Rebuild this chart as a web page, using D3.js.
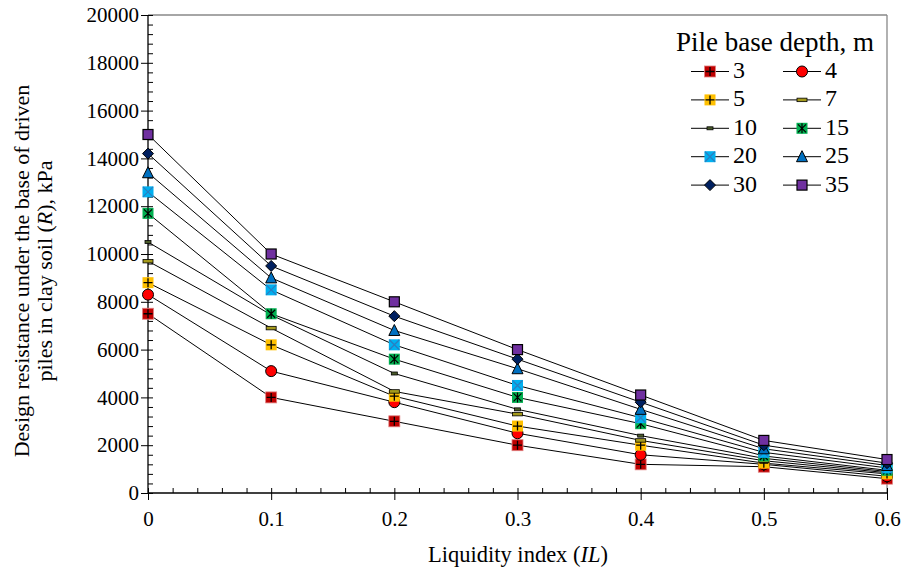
<!DOCTYPE html>
<html><head><meta charset="utf-8">
<script src="https://cdn.jsdelivr.net/npm/d3@7"></script>
<style>body{margin:0;background:#fff}svg{display:block}svg text{font-family:"Liberation Serif","Times New Roman",serif !important;fill:#000}</style>
</head><body>
<svg id="c" width="906" height="577" style="font-family:'Liberation Serif','Times New Roman',serif"></svg>
<script>
const il = [0, 0.1, 0.2, 0.3, 0.4, 0.5, 0.6];
const depths = ["3","4","5","7","10","15","20","25","30","35"];
const d3v = [7500, 4000, 3000, 2000, 1200, 1100, 600];
const d4v = [8300, 5100, 3800, 2500, 1600, 1200, 700];
const d5v = [8800, 6200, 4050, 2800, 2000, 1250, 800];
const d7v = [9700, 6900, 4250, 3300, 2200, 1350, 850];
const d10v = [10500, 7450, 5000, 3500, 2400, 1450, 900];
const d15v = [11700, 7500, 5600, 4000, 2900, 1550, 950];
const d20v = [12600, 8500, 6200, 4500, 3150, 1700, 1050];
const d25v = [13400, 9000, 6800, 5200, 3500, 1850, 1150];
const d30v = [14200, 9500, 7400, 5600, 3800, 2000, 1250];
const d35v = [15000, 10000, 8000, 6000, 4100, 2200, 1400];
const yTicks = [0,2000,4000,6000,8000,10000,12000,14000,16000,18000,20000];
const xTicks = [0,0.1,0.2,0.3,0.4,0.5,0.6];
const seriesValues = [d3v,d4v,d5v,d7v,d10v,d15v,d20v,d25v,d30v,d35v];

const FONT = "'Liberation Serif','Times New Roman',serif";

const styles = {
  "3":{t:"sqplus",fill:"#C00000",stroke:"#E08080"},
  "4":{t:"circle",fill:"#FF0000",stroke:"#000"},
  "5":{t:"sqplus",fill:"#FFC000",stroke:"none"},
  "7":{t:"dash",fill:"#A49A1C",stroke:"#000",w:10,h:3.5},
  "10":{t:"dash",fill:"#4A5A2A",stroke:"#000",w:6,h:3},
  "15":{t:"sqstar",fill:"#00B050",stroke:"none"},
  "20":{t:"sqx",fill:"#00B0F0",stroke:"none"},
  "25":{t:"tri",fill:"#0070C0",stroke:"#000"},
  "30":{t:"diamond",fill:"#002060",stroke:"#000"},
  "35":{t:"square",fill:"#7030A0",stroke:"#000"}
};

function marker(g, s, cx, cy){
  const m = g.append("g").attr("transform",`translate(${cx},${cy})`);
  const r = 5.5;
  if (s.t==="sqplus"){
    m.append("rect").attr("x",-r).attr("y",-r).attr("width",2*r).attr("height",2*r).attr("fill",s.fill).attr("stroke",s.stroke).attr("stroke-width",0.8);
    m.append("path").attr("d",`M${-r+1},0H${r-1}M0,${-r+1}V${r-1}`).attr("stroke","#000").attr("stroke-width",1.3);
  } else if (s.t==="circle"){
    m.append("circle").attr("r",r).attr("fill",s.fill).attr("stroke",s.stroke).attr("stroke-width",1);
  } else if (s.t==="dash"){
    m.append("rect").attr("x",-s.w/2).attr("y",-s.h/2).attr("width",s.w).attr("height",s.h).attr("fill",s.fill).attr("stroke",s.stroke).attr("stroke-width",0.8);
  } else if (s.t==="sqstar"){
    m.append("rect").attr("x",-r).attr("y",-r).attr("width",2*r).attr("height",2*r).attr("fill",s.fill);
    m.append("path").attr("d",`M${-r+1.5},${-r+1.5}L${r-1.5},${r-1.5}M${-r+1.5},${r-1.5}L${r-1.5},${-r+1.5}M0,${-r+0.5}V${r-0.5}`).attr("stroke","#000").attr("stroke-width",1.2);
  } else if (s.t==="sqx"){
    m.append("rect").attr("x",-r).attr("y",-r).attr("width",2*r).attr("height",2*r).attr("fill",s.fill);
    m.append("path").attr("d",`M${-r+0.5},${-r+0.5}L${r-0.5},${r-0.5}M${-r+0.5},${r-0.5}L${r-0.5},${-r+0.5}`).attr("stroke","#2A7FC0").attr("stroke-width",1.3);
  } else if (s.t==="tri"){
    m.append("path").attr("d",`M0,${-r-0.5}L${r},${r-0.5}L${-r},${r-0.5}Z`).attr("fill",s.fill).attr("stroke",s.stroke).attr("stroke-width",1);
  } else if (s.t==="diamond"){
    m.append("path").attr("d",`M0,${-r}L${r},0L0,${r}L${-r},0Z`).attr("fill",s.fill).attr("stroke",s.stroke).attr("stroke-width",1);
  } else if (s.t==="square"){
    m.append("rect").attr("x",-r+0.5).attr("y",-r+0.5).attr("width",2*r-1).attr("height",2*r-1).attr("fill",s.fill).attr("stroke",s.stroke).attr("stroke-width",1.2);
  }
}

const svg = d3.select("#c");
const L=148, R=887, T=15, B=493;
const x = d3.scaleLinear().domain([0,0.6]).range([L,R]);
const y = d3.scaleLinear().domain([0,20000]).range([B,T]);

// frame
svg.append("line").attr("x1",L).attr("x2",R).attr("y1",T).attr("y2",T).attr("stroke","#888").attr("stroke-width",1.3);
svg.append("line").attr("x1",R).attr("x2",R).attr("y1",T).attr("y2",B).attr("stroke","#888").attr("stroke-width",1.3);

// minor ticks
const yMinor = d3.range(0,20001,400).filter(v=>v%2000!==0);
const xMinor = d3.range(0,31).map(i=>i*0.02).filter((v,i)=>i%5!==0);
svg.append("g").attr("transform",`translate(${L},0)`).call(d3.axisRight(y).tickValues(yMinor).tickSize(5).tickFormat(""))
  .call(g=>{g.select(".domain").remove();g.selectAll("line").attr("stroke","#000");});
svg.append("g").attr("transform",`translate(0,${B})`).call(d3.axisTop(x).tickValues(xMinor).tickSize(5).tickFormat(""))
  .call(g=>{g.select(".domain").remove();g.selectAll("line").attr("stroke","#000");});

// major axes
const yAx = svg.append("g").attr("transform",`translate(${L},0)`).call(d3.axisLeft(y).tickValues(yTicks).tickSize(6).tickPadding(4).tickFormat(d3.format("d")));
yAx.attr("font-family",null).style("font-family",FONT);
yAx.select(".domain").attr("stroke","#000").attr("stroke-width",1.3).attr("d",`M0,${T}V${B}`);
yAx.selectAll(".tick line").attr("stroke","#000").attr("x2",-7).attr("x1",5);
yAx.selectAll(".tick text").attr("font-size",21).style("font-family",FONT).attr("x",-9);

const xAx = svg.append("g").attr("transform",`translate(0,${B})`).call(d3.axisBottom(x).tickValues(xTicks).tickSize(7).tickPadding(10).tickFormat(d=>d===0?"0":d3.format(".1f")(d)));
xAx.attr("font-family",null).style("font-family",FONT);
xAx.select(".domain").attr("stroke","#000").attr("stroke-width",1.3).attr("d",`M${L},0H${R}`);
xAx.selectAll(".tick line").attr("stroke","#000").attr("y1",-5).attr("y2",7);
xAx.selectAll(".tick text").attr("font-size",21).style("font-family",FONT).attr("y",18);

// series
const line = d3.line().x((d,i)=>x(il[i])).y(d=>y(d));
seriesValues.forEach((vals)=>{
  svg.append("path").attr("d",line(vals)).attr("fill","none").attr("stroke","#000").attr("stroke-width",1);
});
seriesValues.forEach((vals,si)=>{
  const g = svg.append("g");
  vals.forEach((v,i)=>marker(g, styles[depths[si]], x(il[i]), y(v)));
});

// legend
const lg = svg.append("g").style("font-family",FONT);
lg.append("rect").attr("x",668).attr("y",24).attr("width",216).attr("height",180).attr("fill","#fff");
lg.append("text").attr("x",775).attr("y",51).attr("text-anchor","middle").attr("font-size",27).style("font-family",FONT).text("Pile base depth, m");
depths.forEach((d,i)=>{
  const col=i%2, row=Math.floor(i/2);
  const cx = col===0?710:802, cy = 71.5+row*28.4;
  lg.append("line").attr("x1",cx-19).attr("x2",cx+19).attr("y1",cy).attr("y2",cy).attr("stroke","#000").attr("stroke-width",1);
  marker(lg, styles[d], cx, cy);
  lg.append("text").attr("x",cx+23).attr("y",cy+6.5).attr("font-size",24).style("font-family",FONT).text(d);
});

// axis titles
const yt = svg.append("text").attr("transform","rotate(-90)").attr("text-anchor","middle").attr("font-size",22).style("font-family",FONT);
yt.append("tspan").attr("x",-271).attr("y",29).text("Design resistance under the base of driven");
const t2 = yt.append("tspan").attr("x",-271).attr("y",52);
t2.text("piles in clay soil (");
yt.append("tspan").attr("font-style","italic").text("R");
yt.append("tspan").text("), kPa");

const xt = svg.append("text").attr("x",518).attr("y",562).attr("text-anchor","middle").attr("font-size",22.5).style("font-family",FONT);
xt.append("tspan").text("Liquidity index (");
xt.append("tspan").attr("font-style","italic").text("IL");
xt.append("tspan").text(")");
</script>
</body></html>
